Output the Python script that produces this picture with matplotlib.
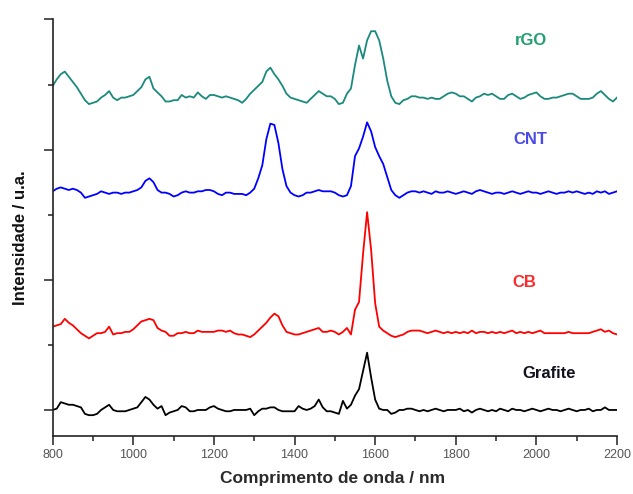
import matplotlib
matplotlib.use("Agg")
import matplotlib.pyplot as plt
from matplotlib.ticker import MultipleLocator

plt.rcParams['font.family'] = ['Liberation Sans', 'DejaVu Sans']

wavenumber = list(range(800, 2201, 10))

rgo = [
    2.49, 2.54, 2.58, 2.60, 2.56, 2.52, 2.48, 2.43, 2.38, 2.35,
    2.36, 2.37, 2.40, 2.42, 2.45, 2.40, 2.38, 2.40, 2.40, 2.41,
    2.42, 2.45, 2.48, 2.54, 2.56, 2.47, 2.44, 2.41, 2.37, 2.37,
    2.38, 2.38, 2.42, 2.40, 2.41, 2.40, 2.44, 2.41, 2.39, 2.42,
    2.42, 2.41, 2.40, 2.41, 2.40, 2.39, 2.38, 2.36, 2.39, 2.43,
    2.46, 2.49, 2.52, 2.60, 2.63, 2.58, 2.54, 2.49, 2.43, 2.40,
    2.39, 2.38, 2.37, 2.36, 2.39, 2.42, 2.45, 2.43, 2.41, 2.41,
    2.39, 2.35, 2.36, 2.43, 2.47, 2.65, 2.80, 2.70, 2.84, 2.91,
    2.91, 2.84, 2.70, 2.53, 2.41, 2.36, 2.35, 2.38, 2.39, 2.41,
    2.41, 2.40, 2.40, 2.39, 2.40, 2.39, 2.39, 2.41, 2.43, 2.44,
    2.43, 2.41, 2.41, 2.39, 2.37, 2.40, 2.41, 2.43, 2.42, 2.43,
    2.41, 2.39, 2.39, 2.42, 2.43, 2.41, 2.39, 2.40, 2.42, 2.43,
    2.44, 2.41, 2.39, 2.39, 2.40, 2.40, 2.41, 2.42, 2.43, 2.43,
    2.41, 2.39, 2.39, 2.39, 2.40, 2.43, 2.45, 2.42, 2.39, 2.37,
    2.40,
]

cnt = [
    1.68, 1.70, 1.71, 1.70, 1.69, 1.70, 1.69, 1.67, 1.63, 1.64,
    1.65, 1.66, 1.68, 1.67, 1.66, 1.67, 1.67, 1.66, 1.67, 1.67,
    1.68, 1.69, 1.71, 1.76, 1.78, 1.75, 1.69, 1.67, 1.67, 1.66,
    1.64, 1.65, 1.67, 1.68, 1.67, 1.67, 1.68, 1.68, 1.69, 1.69,
    1.68, 1.66, 1.65, 1.67, 1.67, 1.66, 1.66, 1.66, 1.65, 1.67,
    1.70, 1.78, 1.88, 2.08, 2.20, 2.19, 2.05, 1.85, 1.72, 1.67,
    1.65, 1.64, 1.65, 1.67, 1.67, 1.68, 1.69, 1.68, 1.68, 1.68,
    1.67, 1.65, 1.64, 1.65, 1.72, 1.95, 2.01, 2.10, 2.21, 2.14,
    2.02, 1.95, 1.89, 1.79, 1.69, 1.65, 1.63, 1.65, 1.67, 1.68,
    1.68, 1.67, 1.68, 1.67, 1.66, 1.68, 1.67, 1.67, 1.68, 1.67,
    1.66, 1.67, 1.68, 1.67, 1.66, 1.68, 1.69, 1.68, 1.67, 1.66,
    1.67, 1.67, 1.66, 1.67, 1.68, 1.67, 1.66, 1.67, 1.68, 1.67,
    1.67, 1.66, 1.67, 1.68, 1.67, 1.66, 1.67, 1.67, 1.68, 1.67,
    1.68, 1.67, 1.66, 1.67, 1.66, 1.68, 1.67, 1.68, 1.66, 1.67,
    1.68,
]

cb = [
    0.64, 0.65, 0.66, 0.70, 0.67, 0.65, 0.62, 0.59, 0.57, 0.55,
    0.57, 0.59, 0.59, 0.60, 0.64, 0.58, 0.59, 0.59, 0.60, 0.60,
    0.62, 0.65, 0.68, 0.69, 0.70, 0.69, 0.63, 0.61, 0.60, 0.57,
    0.57, 0.59, 0.59, 0.60, 0.59, 0.59, 0.61, 0.60, 0.60, 0.60,
    0.60, 0.61, 0.61, 0.60, 0.61, 0.59, 0.58, 0.58, 0.57, 0.56,
    0.58, 0.61, 0.64, 0.67, 0.71, 0.74, 0.72, 0.65, 0.60, 0.59,
    0.58, 0.58, 0.59, 0.60, 0.61, 0.62, 0.63, 0.60, 0.60, 0.61,
    0.60, 0.58, 0.60, 0.63, 0.58, 0.77, 0.83, 1.20, 1.52, 1.23,
    0.82, 0.64, 0.61, 0.59, 0.57, 0.56, 0.57, 0.58, 0.60, 0.61,
    0.61, 0.61, 0.60, 0.59, 0.60, 0.61, 0.60, 0.59, 0.60, 0.59,
    0.60, 0.59, 0.60, 0.59, 0.61, 0.59, 0.60, 0.60, 0.59, 0.60,
    0.59, 0.60, 0.59, 0.60, 0.61, 0.59, 0.60, 0.59, 0.60, 0.59,
    0.60, 0.61, 0.59, 0.59, 0.59, 0.59, 0.59, 0.59, 0.60, 0.59,
    0.59, 0.59, 0.59, 0.59, 0.60, 0.61, 0.62, 0.60, 0.61, 0.59,
    0.58,
]

grafite = [
    0.00, 0.01, 0.06, 0.05, 0.04, 0.04, 0.03, 0.02, -0.03, -0.04,
    -0.04, -0.03, 0.00, 0.02, 0.04, 0.00, -0.01, -0.01, -0.01, 0.00,
    0.01, 0.02, 0.06, 0.10, 0.08, 0.04, 0.01, 0.03, -0.04, -0.02,
    -0.01, 0.00, 0.03, 0.02, -0.01, -0.01, 0.00, 0.00, 0.00, 0.02,
    0.03, 0.01, 0.00, -0.01, -0.01, 0.00, 0.00, 0.00, 0.00, 0.01,
    -0.04, -0.01, 0.01, 0.01, 0.02, 0.02, 0.00, -0.01, -0.01, -0.01,
    -0.01, 0.03, 0.01, 0.00, 0.01, 0.03, 0.08, 0.02, -0.01, -0.01,
    -0.02, -0.03, 0.07, 0.01, 0.04, 0.11, 0.16, 0.30, 0.44, 0.25,
    0.08, 0.01, 0.00, 0.00, -0.03, -0.02, 0.00, 0.00, 0.01, 0.01,
    0.00, -0.01, 0.00, -0.01, 0.00, 0.01, 0.00, -0.01, 0.00, 0.00,
    0.00, 0.01, -0.01, 0.00, -0.02, 0.00, 0.01, 0.00, -0.01, 0.00,
    -0.01, 0.01, 0.00, -0.01, 0.01, 0.00, 0.00, -0.01, 0.00, 0.01,
    0.00, -0.01, 0.00, 0.01, 0.00, 0.00, -0.01, 0.00, 0.01, 0.00,
    -0.01, 0.00, 0.00, 0.01, -0.01, 0.00, 0.00, 0.02, 0.00, 0.00,
    0.00,
]

series_names = ["rGO", "CNT", "CB", "Grafite"]
series_values = [rgo, cnt, cb, grafite]
line_colors = ["#1b8a7e", "#0000ff", "#ff0000", "#000000"]
label_colors = ["#22a070", "#4a4ae6", "#ff2a2a", "#111122"]
label_pos = [(1986, 2.84), (1986, 2.08), (1969, 0.98), (2031, 0.28)]

xticks = [800, 1000, 1200, 1400, 1600, 1800, 2000, 2200]

fig = plt.figure(figsize=(6.33, 4.94), dpi=100)
ax = fig.add_axes([52.7 / 633, (494 - 436) / 494, (617 - 52.7) / 633, (436 - 19.5) / 494])

for vals, col in zip(series_values, line_colors):
    ax.plot(wavenumber, vals, color=col, lw=1.3)

for name, (xx, yy), col in zip(series_names, label_pos, label_colors):
    ax.text(xx, yy, name, color=col, fontsize=12, fontweight='bold',
            ha='center', va='center')

ax.set_xlim(800, 2200)
ax.set_ylim(-0.2, 3.0)
ax.set_xticks(xticks)
ax.set_xticklabels([str(t) for t in xticks])
ax.xaxis.set_minor_locator(MultipleLocator(100))
ax.set_yticks([0, 1, 2, 3])
ax.yaxis.set_minor_locator(MultipleLocator(0.5))
ax.set_yticklabels([])

for s in ['top', 'right']:
    ax.spines[s].set_visible(False)
for s in ['left', 'bottom']:
    ax.spines[s].set_linewidth(1.2)
    ax.spines[s].set_color('#222222')

ax.tick_params(axis='both', which='major', length=6.5, width=1.1, color='#222222',
               direction='out')
ax.tick_params(axis='both', which='minor', length=3.5, width=1.1, color='#222222',
               direction='out')
ax.tick_params(axis='x', which='major', labelsize=9, labelcolor='#555555', pad=3)

fig.text(21 / 633, 1 - 238 / 494, "Intensidade / u.a.", rotation=90,
         fontsize=12, fontweight='bold', ha='center', va='center', color='#111111')
fig.text(333 / 633, 1 - 478 / 494, "Comprimento de onda / nm",
         fontsize=12.5, fontweight='bold', ha='center', va='center', color='#2a2a2a')

fig.savefig("out.png", dpi=100)
